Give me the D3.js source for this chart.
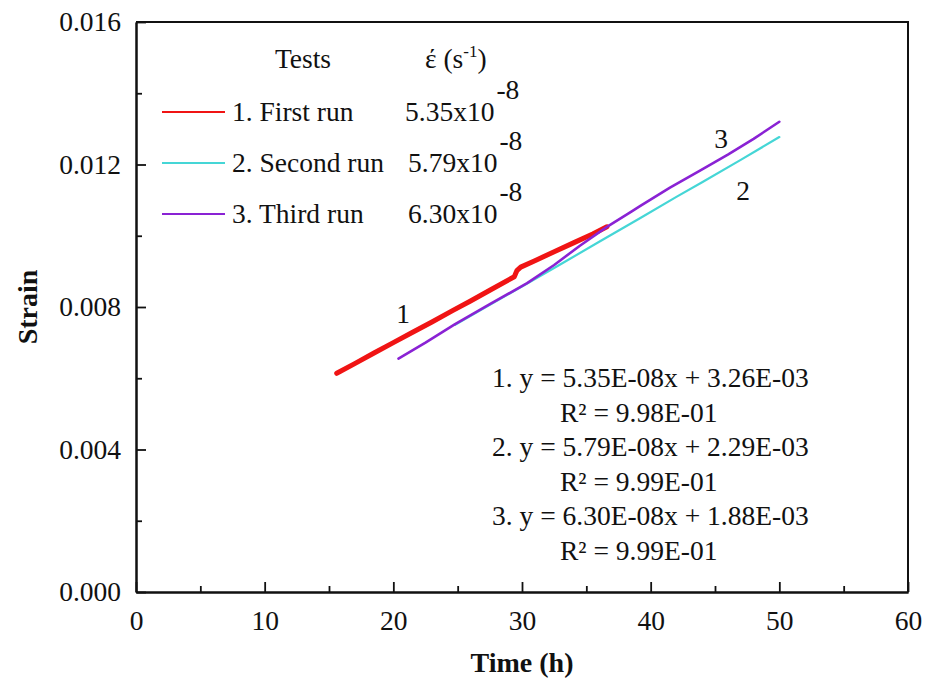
<!DOCTYPE html>
<html>
<head>
<meta charset="utf-8">
<script src="https://cdn.jsdelivr.net/npm/d3@7"></script>
<style>
  html, body { margin: 0; padding: 0; background: #fff; }
  svg { display: block; }
  text { font-family: "Liberation Serif", "Times New Roman", serif; fill: #111; }
</style>
</head>
<body>
<div id="chart"></div>
<script>
// ---- data ----
const run1Time   = [15.6, 17.0, 18.5, 20.0, 21.5, 23.0, 24.6, 26.0, 27.5, 29.4, 29.6, 29.9, 31.0, 32.5, 34.0, 35.5, 36.6];
const run1Strain = [0.00614, 0.00641, 0.00671, 0.00700, 0.00729, 0.00758, 0.00790, 0.00817, 0.00847, 0.00885, 0.00902, 0.00912, 0.00930, 0.00955, 0.00980, 0.01005, 0.01025];

const run2Time   = [24.8, 27.5, 30.4, 33.0, 36.0, 39.2, 42.0, 44.0, 47.0, 50.0];
const run2Strain = [0.00750, 0.00806, 0.00866, 0.00920, 0.00983, 0.01050, 0.01109, 0.01150, 0.01213, 0.01277];

const run3Time   = [20.4, 22.5, 24.8, 27.5, 30.4, 32.5, 34.5, 36.6, 38.5, 39.2, 41.5, 43.8, 46.0, 48.0, 50.0];
const run3Strain = [0.00655, 0.00700, 0.00752, 0.00808, 0.00867, 0.00918, 0.00972, 0.01025, 0.01068, 0.01084, 0.01135, 0.01182, 0.01228, 0.01272, 0.01320];

const seriesNames  = ["1. First run", "2. Second run", "3. Third run"];
const seriesRates  = ["5.35x10", "5.79x10", "6.30x10"];
const seriesColors = ["#f01414", "#45d6d6", "#8a22d4"];
const curveLabels  = ["1", "2", "3"];

const xMajorTicks = [0, 10, 20, 30, 40, 50, 60];
const xMinorTicks = [5, 15, 25, 35, 45, 55];
const yMajorTicks = [0, 0.004, 0.008, 0.012, 0.016];
const yMinorTicks = [0.002, 0.006, 0.010, 0.014];

const equations = [
  "1. y = 5.35E-08x + 3.26E-03",
  "R² = 9.98E-01",
  "2. y = 5.79E-08x + 2.29E-03",
  "R² = 9.99E-01",
  "3. y = 6.30E-08x + 1.88E-03",
  "R² = 9.99E-01"
];

// ---- layout ----
const W = 925, H = 682;
const L = 136, R = 908, T = 22, B = 592;
const svg = d3.select("#chart").append("svg").attr("width", W).attr("height", H);

const x = d3.scaleLinear().domain([0, 60]).range([L, R]);
const y = d3.scaleLinear().domain([0, 0.016]).range([B, T]);

// axes
const fs = 27.5;
svg.append("g").attr("transform", `translate(0,${B})`)
  .call(d3.axisBottom(x).tickValues(xMajorTicks).tickSizeInner(-10).tickSizeOuter(0).tickPadding(18).tickFormat(d3.format("d")));
svg.append("g").attr("transform", `translate(0,${B})`)
  .call(d3.axisBottom(x).tickValues(xMinorTicks).tickSizeInner(-6).tickSizeOuter(0).tickFormat(""));
svg.append("g").attr("transform", `translate(${L},0)`)
  .call(d3.axisLeft(y).tickValues(yMajorTicks).tickSizeInner(-10).tickSizeOuter(0).tickPadding(15).tickFormat(d3.format(".3f")));
svg.append("g").attr("transform", `translate(${L},0)`)
  .call(d3.axisLeft(y).tickValues(yMinorTicks).tickSizeInner(-6).tickSizeOuter(0).tickFormat(""));

svg.selectAll(".domain").attr("stroke", "#111").attr("stroke-width", 2);
svg.selectAll(".tick line").attr("stroke", "#111").attr("stroke-width", 1.8);
svg.selectAll(".tick text").style("font-size", fs + "px").style("font-family", "Liberation Serif").attr("fill", "#111");

// top/right frame
svg.append("path").attr("d", `M${L},${T}H${R}V${B}`).attr("fill", "none").attr("stroke", "#111").attr("stroke-width", 2);

// axis titles
svg.append("text").attr("x", (L + R) / 2).attr("y", 672).attr("text-anchor", "middle")
  .style("font-size", "28px").style("font-weight", "bold").text("Time (h)");
svg.append("text").attr("transform", `translate(37,${(T + B) / 2}) rotate(-90)`).attr("text-anchor", "middle")
  .style("font-size", "28px").style("font-weight", "bold").text("Strain");

// lines
const runs = [
  {t: run1Time, s: run1Strain, w: 5},
  {t: run2Time, s: run2Strain, w: 2.2},
  {t: run3Time, s: run3Strain, w: 2.6}
];
const line = d3.line().x(d => x(d[0])).y(d => y(d[1]));
runs.forEach((r, i) => {
  const pts = r.t.map((t, k) => [t, r.s[k]]);
  svg.append("path").datum(pts).attr("d", line)
    .attr("fill", "none").attr("stroke", seriesColors[i]).attr("stroke-width", r.w)
    .attr("stroke-linejoin", "round").attr("stroke-linecap", "round");
});

// curve labels
const labelPos = [[403, 323], [743, 200], [721, 148]];
curveLabels.forEach((c, i) => {
  svg.append("text").attr("x", labelPos[i][0]).attr("y", labelPos[i][1]).attr("text-anchor", "middle")
    .style("font-size", fs + "px").text(c);
});

// legend
svg.append("text").attr("x", 303).attr("y", 68).attr("text-anchor", "middle").style("font-size", fs + "px").text("Tests");
const eh = svg.append("text").attr("x", 425).attr("y", 68).style("font-size", fs + "px");
eh.append("tspan").text("έ (s");
eh.append("tspan").attr("dy", -11).style("font-size", "17px").text("-1");
eh.append("tspan").attr("dy", 11).text(")");

const rowY = [112, 163, 214];
const rateX = [405, 408, 408];
seriesNames.forEach((n, i) => {
  svg.append("line").attr("x1", 162).attr("x2", 225).attr("y1", rowY[i]).attr("y2", rowY[i])
    .attr("stroke", seriesColors[i]).attr("stroke-width", 2.2);
  svg.append("text").attr("x", 232).attr("y", rowY[i] + 9).style("font-size", fs + "px").text(n);
  const rt = svg.append("text").attr("x", rateX[i]).attr("y", rowY[i] + 9).style("font-size", fs + "px");
  rt.append("tspan").text(seriesRates[i]);
  rt.append("tspan").attr("dx", 2).attr("dy", -22).text("-8");
});

// equations
const eqX = [492, 560, 492, 560, 492, 560];
const eqY0 = 387, eqDy = 34.6;
equations.forEach((e, i) => {
  svg.append("text").attr("x", eqX[i]).attr("y", eqY0 + i * eqDy).style("font-size", fs + "px").text(e);
});
</script>
</body>
</html>
